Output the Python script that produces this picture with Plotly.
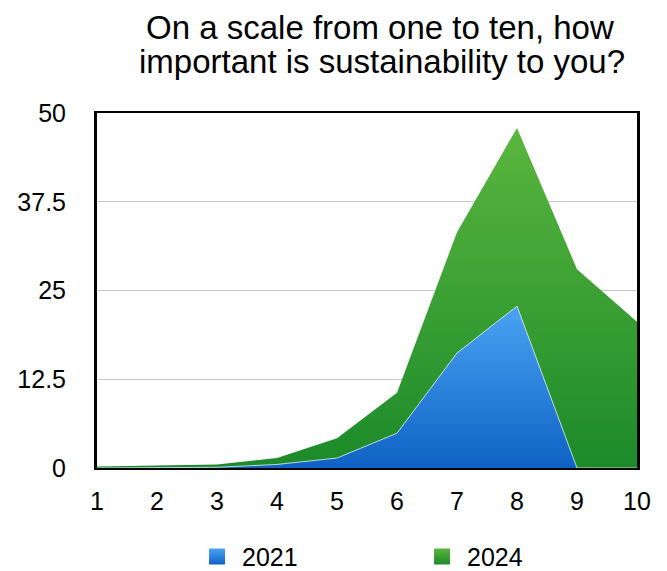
import plotly.graph_objects as go

categories = [1, 2, 3, 4, 5, 6, 7, 8, 9, 10]
values_2021 = [0, 0, 0.1, 0.5, 1.4, 4.9, 16.2, 22.8, 0, 0]
values_2024 = [0.2, 0.3, 0.5, 1.4, 4.2, 10.6, 33.2, 47.9, 28.0, 20.6]
y_ticks = [0, 12.5, 25, 37.5, 50]
y_tick_labels = ["0", "12.5", "25", "37.5", "50"]
title_lines = ["On a scale from one to ten, how", "important is sustainability to you?"]

FONT = "Liberation Sans, Arial, Helvetica, sans-serif"
blue_dark, blue_light = "#0f62c4", "#4aa3f2"
green_dark, green_light = "#1c8a2a", "#5ab63e"

fig = go.Figure()
fig.add_trace(go.Scatter(
    x=categories, y=values_2024, name="2024", mode="lines",
    line=dict(width=0, color="#2f9a33"),
    fill="tozeroy",
    fillgradient=dict(type="vertical",
                      colorscale=[[0, green_dark], [1, green_light]]),
    showlegend=False,
))
fig.add_trace(go.Scatter(
    x=categories, y=values_2021, name="2021", mode="lines",
    line=dict(width=1, color="rgba(255,255,255,0.7)"),
    fill="tozeroy",
    fillgradient=dict(type="vertical",
                      colorscale=[[0, blue_dark], [1, blue_light]]),
    showlegend=False,
))
# legend entries (square swatches)
for name, dark, light in [("2021", blue_dark, blue_light), ("2024", green_dark, green_light)]:
    fig.add_trace(go.Scatter(
        x=[None], y=[None], mode="markers", name=name,
        marker=dict(symbol="square", size=20, color=light,
                    gradient=dict(type="vertical", color=dark),
                    line=dict(width=0)),
        showlegend=True,
    ))

annotations = [
    dict(text=title_lines[0], x=0.524, y=1.242),
    dict(text=title_lines[1], x=0.527, y=1.144),
]
fig.update_layout(
    width=659, height=563,
    margin=dict(l=89, r=30, t=105, b=103, autoexpand=False),
    paper_bgcolor="white", plot_bgcolor="white",
    font=dict(family=FONT, color="black", size=25),
    annotations=[dict(a, xref="paper", yref="paper", xanchor="center",
                      yanchor="middle", showarrow=False,
                      font=dict(size=33, family=FONT, color="black"))
                 for a in annotations],
    showlegend=True,
    legend=dict(orientation="h", x=0.176, xanchor="left", xref="paper",
                y=-0.25, yanchor="middle", itemwidth=40,
                entrywidth=170, font=dict(size=25)),
    xaxis=dict(range=[1, 10], tickmode="array", tickvals=categories,
               ticktext=[str(c) for c in categories], showgrid=False,
               showline=True, linecolor="black", linewidth=2, mirror=True,
               ticks="", zeroline=False, ticklabelstandoff=10),
    yaxis=dict(range=[0, 50], tickmode="array", tickvals=y_ticks,
               ticktext=y_tick_labels, showgrid=True, gridcolor="#c8c8c8",
               gridwidth=1, showline=True, linecolor="black", linewidth=3,
               mirror=True, ticks="", zeroline=False, ticklabelstandoff=23),
)

fig.write_html("out.html")
